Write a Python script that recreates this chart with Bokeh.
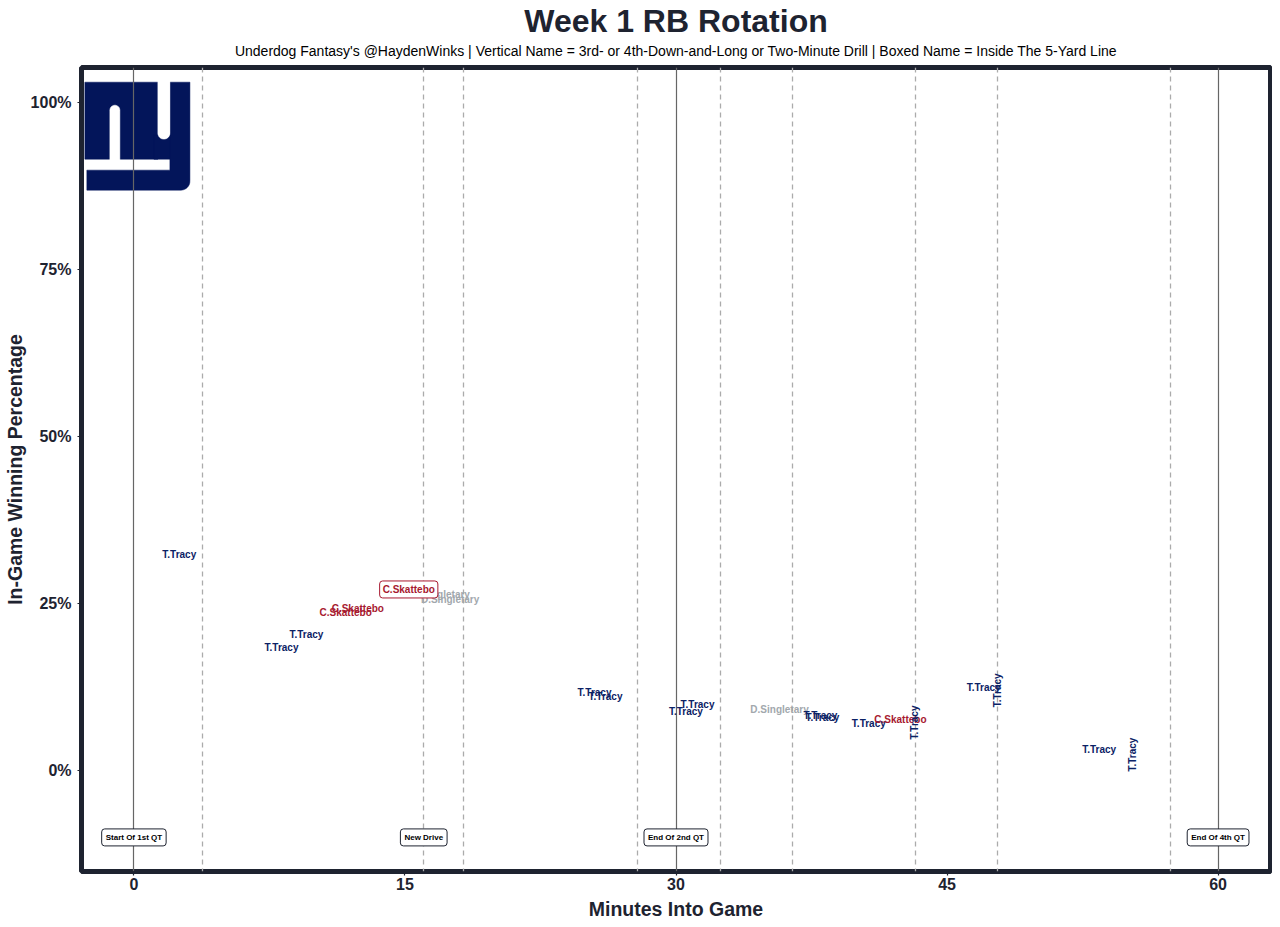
import math
import numpy as np
from bokeh.plotting import figure
from bokeh.models import Range1d, FixedTicker, PrintfTickFormatter, Title, ColumnDataSource
from bokeh.embed import file_html
from bokeh.resources import INLINE
from bokeh.core.properties import value

# ---------------- data ----------------
minutes = [2.51, 9.55, 8.17, 12.39, 11.72, 15.21, 16.98, 17.50, 25.49, 26.10,
           31.19, 30.55, 35.73, 37.99, 38.10, 40.67, 42.42, 43.20, 47.03, 47.78,
           53.42, 55.28]
win_pct = [32.4, 20.3, 18.4, 24.2, 23.7, 27.1, 26.3, 25.6, 11.7, 11.1,
           9.9, 8.9, 9.1, 8.2, 8.0, 7.0, 7.6, 7.2, 12.4, 12.0,
           3.2, 2.4]
players = ["T.Tracy", "T.Tracy", "T.Tracy", "C.Skattebo", "C.Skattebo", "C.Skattebo",
           "D.Singletary", "D.Singletary", "T.Tracy", "T.Tracy", "T.Tracy", "T.Tracy",
           "D.Singletary", "T.Tracy", "T.Tracy", "T.Tracy", "C.Skattebo", "T.Tracy",
           "T.Tracy", "T.Tracy", "T.Tracy", "T.Tracy"]
vertical = [False, False, False, False, False, False, False, False, False, False,
            False, False, False, False, False, False, False, True, False, True,
            False, True]
boxed = [False, False, False, False, False, True, False, False, False, False,
         False, False, False, False, False, False, False, False, False, False,
         False, False]

player_colors = {"T.Tracy": "#0B2265", "C.Skattebo": "#A71930", "D.Singletary": "#A2A8AD"}

quarter_lines = [0, 30, 60]
event_lines = [3.82, 16.04, 18.25, 27.87, 32.46, 36.44, 43.24, 47.78, 57.35]
event_x = [0, 16.04, 30, 60]
event_y = [-10, -10, -10, -10]
event_labels = ["Start Of 1st QT", "New Drive", "End Of 2nd QT", "End Of 4th QT"]

x_ticks = [0, 15, 30, 45, 60]
y_ticks = [0, 25, 50, 75, 100]

DARK = "#1E2330"
NAVY = "#03155A"
FONT = "Liberation Sans"

X0, X1 = -2.9, 62.9
Y0, Y1 = -15.1, 105.2

# ---------------- figure ----------------
p = figure(width=1272, height=922, output_backend="svg", toolbar_location=None,
           title=None, x_range=Range1d(X0, X1), y_range=Range1d(Y0, Y1),
           min_border_left=80, min_border_right=2, min_border_top=67, min_border_bottom=50)
p.background_fill_color = "white"
p.border_fill_color = "white"
p.outline_line_color = DARK
p.outline_line_width = 5
p.xgrid.visible = False
p.ygrid.visible = False

# ---------------- logo (decoration) ----------------
# logo drawn in a local unit box: u in [0, 106] to the right, v in [0, 111] downwards
LOGO_LEFT, LOGO_TOP = -2.77, 103.3       # data position of the box's top-left
U_SCALE = 5.87 / 106.0                    # data x per unit
V_SCALE = 16.6 / 111.0                    # data y per unit

def to_data(pts):
    xs = [LOGO_LEFT + u * U_SCALE for u, v in pts]
    ys = [LOGO_TOP - v * V_SCALE for u, v in pts]
    return xs, ys

def arc(cx, cy, r, a0, a1, n=12):
    t = np.linspace(math.radians(a0), math.radians(a1), n)
    return [(cx + r * math.cos(a), cy + r * math.sin(a)) for a in t]

shapes = []
# n + y left arm block
shapes.append([(1, 2), (74, 2), (74, 79), (1, 79)])
# bowl joining y arms
shapes.append([(70, 55), (88, 55), (88, 79), (70, 79)])
# y right arm + bar with rounded bottom-right corner
shapes.append([(86, 2), (106, 2), (106, 100)] + arc(97, 101, 9, 0, 90)[1:-1] +
              [(97, 110), (3, 110), (3, 90), (86, 90)])
xs_list, ys_list = [], []
for s in shapes:
    xs, ys = to_data(s)
    xs_list.append(xs)
    ys_list.append(ys)
p.patches(xs_list, ys_list, fill_color=NAVY, line_color=NAVY, line_width=0.5)

# white cut-outs (n counter with rounded top, y gap with rounded bottom)
cuts = []
cuts.append([(26, 80)] + arc(31, 30, 5, 180, 360) + [(36, 80)])
cuts.append([(74, 0)] + [(74, 53)] + arc(80, 53, 6, 180, 0)[1:-1] + [(86, 53), (86, 0)])
cx_list, cy_list = [], []
for s in cuts:
    xs, ys = to_data(s)
    cx_list.append(xs)
    cy_list.append(ys)
p.patches(cx_list, cy_list, fill_color="white", line_color="white", line_width=0.5)

# ---------------- reference lines ----------------
p.vspan(x=event_lines, line_color="#ABABAB", line_width=1.3, line_dash="5 4")
p.vspan(x=quarter_lines, line_color="#666666", line_width=1.2)

# ---------------- labels ----------------
def subset(cond):
    idx = [i for i in range(len(minutes)) if cond(i)]
    return ColumnDataSource(dict(
        x=[minutes[i] for i in idx], y=[win_pct[i] for i in idx],
        name=[players[i] for i in idx],
        color=[player_colors[players[i]] for i in idx],
        angle=[math.pi / 2 if vertical[i] else 0 for i in idx]))

text_kw = dict(text="name", text_color="color", text_font=value(FONT),
               text_font_size="10px", text_font_style="bold",
               text_align="center", text_baseline="middle")
p.text(x="x", y="y", angle="angle", source=subset(lambda i: not boxed[i]), **text_kw)
p.text(x="x", y="y", angle="angle", source=subset(lambda i: boxed[i]),
       background_fill_color="white", border_line_color="#A71930", border_line_width=1,
       padding=3, border_radius=3, **text_kw)

p.text(x=event_x, y=event_y, text=event_labels, text_font=value(FONT),
       text_font_size="8px", text_font_style="bold", text_color="black",
       text_align="center", text_baseline="middle",
       background_fill_color="white", border_line_color=DARK, border_line_width=1,
       padding=4, border_radius=3)

# ---------------- axes ----------------
p.xaxis.ticker = FixedTicker(ticks=x_ticks)
p.yaxis.ticker = FixedTicker(ticks=y_ticks)
p.yaxis.formatter = PrintfTickFormatter(format="%d%%")
for ax in (p.xaxis, p.yaxis):
    ax.axis_line_color = None
    ax.major_tick_line_color = DARK
    ax.major_tick_line_width = 1.2
    ax.major_tick_in = 0
    ax.major_tick_out = 4
    ax.minor_tick_line_color = None
    ax.major_label_text_font = FONT
    ax.major_label_text_font_size = "16px"
    ax.major_label_text_font_style = "bold"
    ax.major_label_text_color = DARK
    ax.axis_label_text_font = FONT
    ax.axis_label_text_font_size = "19.5px"
    ax.axis_label_text_font_style = "bold"
    ax.axis_label_text_color = DARK
p.xaxis.major_label_standoff = 2
p.xaxis.axis_label_standoff = 5
p.yaxis.major_label_standoff = 6
p.yaxis.axis_label_standoff = 2
p.xaxis.axis_label = "Minutes Into Game"
p.yaxis.axis_label = "In-Game Winning Percentage"

# ---------------- titles ----------------
p.add_layout(Title(text="Underdog Fantasy's @HaydenWinks | Vertical Name = 3rd- or 4th-Down-and-Long or Two-Minute Drill | Boxed Name = Inside The 5-Yard Line",
                   align="center", text_font=FONT, text_font_size="14px",
                   text_font_style="normal", text_color="black", standoff=18), "above")
p.add_layout(Title(text="Week 1 RB Rotation", align="center", text_font=FONT,
                   text_font_size="32px", text_font_style="bold", text_color=DARK,
                   standoff=-15), "above")

open("out.html", "w").write(file_html(p, INLINE))
